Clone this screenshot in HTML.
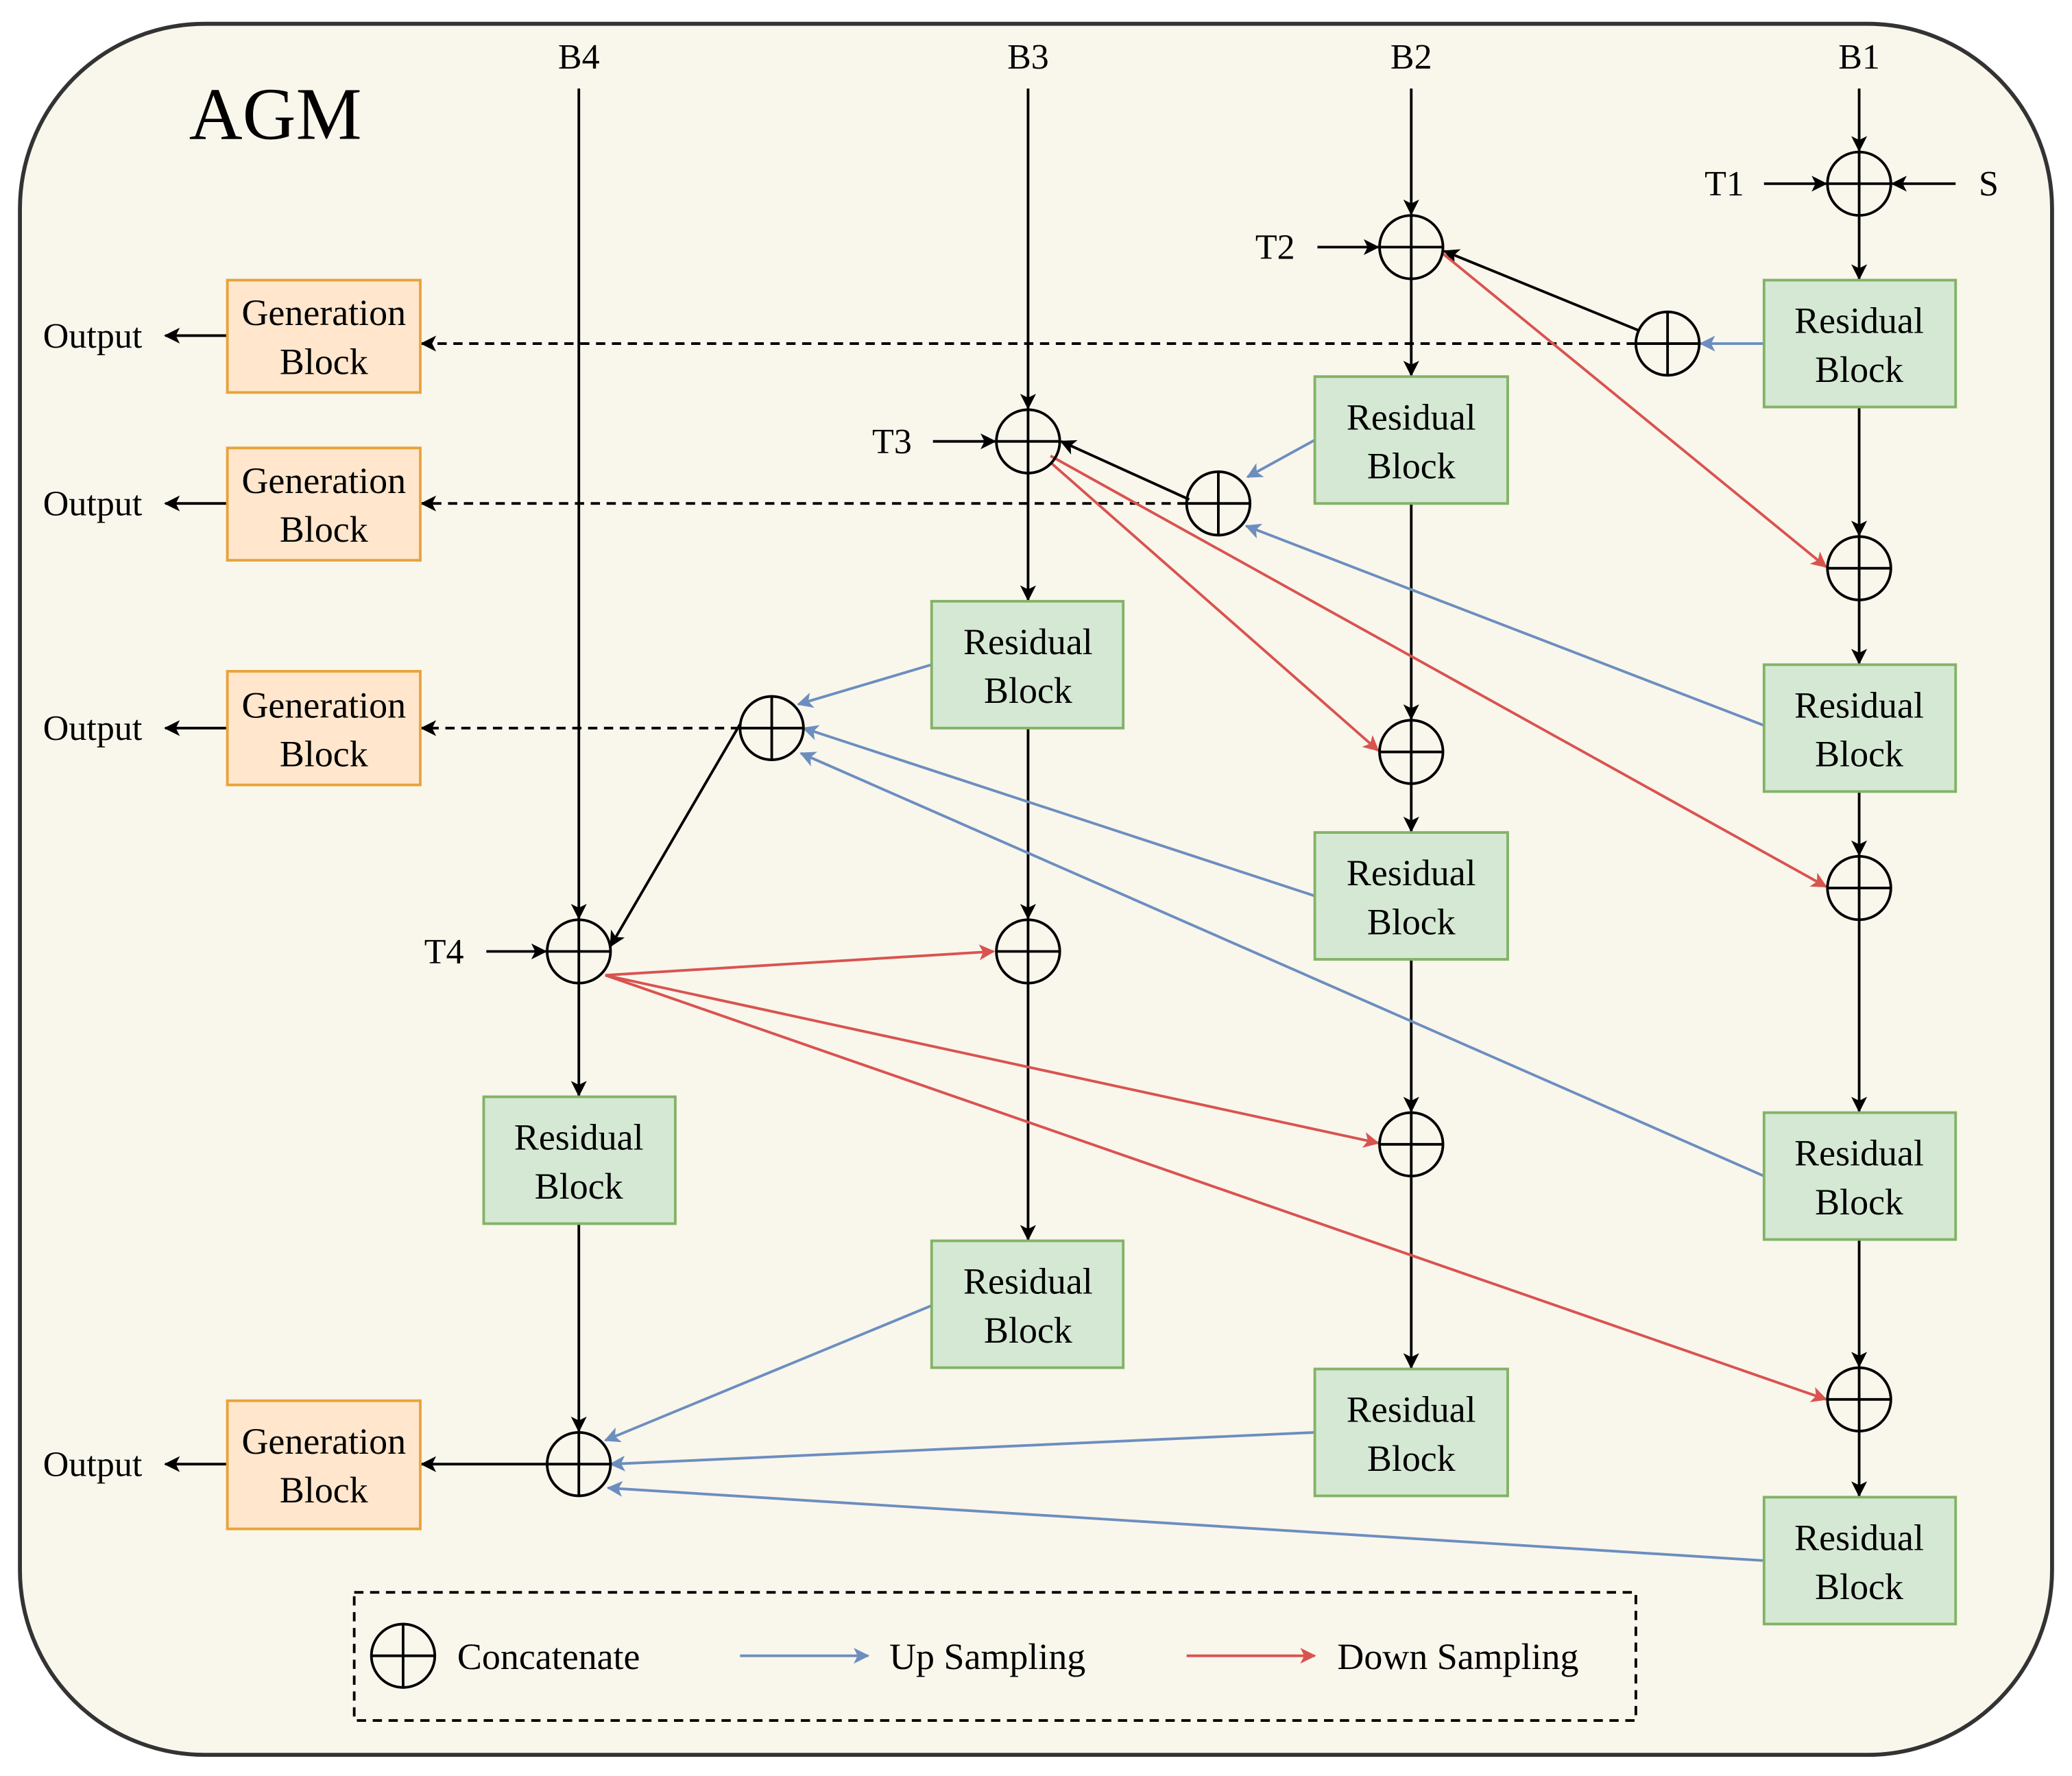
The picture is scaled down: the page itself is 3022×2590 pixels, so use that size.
<!DOCTYPE html>
<html><head><meta charset="utf-8"><style>html,body{margin:0;padding:0;background:#fff}svg{display:block}</style></head><body>
<svg width="3022" height="2590" viewBox="0 0 1568 1344" xmlns="http://www.w3.org/2000/svg" font-family="Liberation Serif, serif">
<defs>
<marker id="k" markerWidth="12" markerHeight="12" refX="11" refY="6" orient="auto" markerUnits="userSpaceOnUse"><path d="M0,0 L12,6 L0,12 L3,6 z" fill="#000"/></marker>
<marker id="b" markerWidth="12" markerHeight="12" refX="11" refY="6" orient="auto" markerUnits="userSpaceOnUse"><path d="M0,0 L12,6 L0,12 L3,6 z" fill="#6c8ebf"/></marker>
<marker id="r" markerWidth="12" markerHeight="12" refX="11" refY="6" orient="auto" markerUnits="userSpaceOnUse"><path d="M0,0 L12,6 L0,12 L3,6 z" fill="#d9534f"/></marker>
</defs>
<rect x="15" y="18" width="1538" height="1310" rx="140" fill="#f9f6ec" stroke="#333" stroke-width="3"/>
<text x="143" y="105" font-size="56">AGM</text>
<g font-size="27" text-anchor="middle">
<text x="438" y="52">B4</text><text x="778" y="52">B3</text><text x="1068" y="52">B2</text><text x="1407" y="52">B1</text>
<text x="1305" y="148">T1</text><text x="1505" y="148">S</text><text x="965" y="196">T2</text><text x="675" y="343">T3</text><text x="336" y="729">T4</text>
<text x="70" y="263">Output</text><text x="70" y="390">Output</text><text x="70" y="560">Output</text><text x="70" y="1117">Output</text>
</g>
<g stroke="#000" stroke-width="2" fill="none" marker-end="url(#k)">
<line x1="1407" y1="67" x2="1407" y2="114"/><line x1="1335" y1="139" x2="1382" y2="139"/><line x1="1480" y1="139" x2="1432" y2="139"/>
<line x1="1407" y1="163" x2="1407" y2="211"/><line x1="1407" y1="308" x2="1407" y2="405"/><line x1="1407" y1="454" x2="1407" y2="502"/>
<line x1="1407" y1="599" x2="1407" y2="647"/><line x1="1407" y1="696" x2="1407" y2="841"/><line x1="1407" y1="938" x2="1407" y2="1034"/><line x1="1407" y1="1083" x2="1407" y2="1132"/>
<line x1="1068" y1="67" x2="1068" y2="162"/><line x1="997" y1="187" x2="1043" y2="187"/><line x1="1068" y1="211" x2="1068" y2="284"/>
<line x1="1068" y1="381" x2="1068" y2="544"/><line x1="1068" y1="593" x2="1068" y2="629"/><line x1="1068" y1="726" x2="1068" y2="841"/><line x1="1068" y1="890" x2="1068" y2="1035"/>
<line x1="778" y1="67" x2="778" y2="309"/><line x1="706" y1="334" x2="753" y2="334"/><line x1="778" y1="358" x2="778" y2="454"/>
<line x1="778" y1="551" x2="778" y2="695"/><line x1="778" y1="744" x2="778" y2="938"/>
<line x1="438" y1="67" x2="438" y2="695"/><line x1="368" y1="720" x2="413" y2="720"/><line x1="438" y1="744" x2="438" y2="829"/><line x1="438" y1="926" x2="438" y2="1083"/>
<line x1="414" y1="1108" x2="319" y2="1108"/>
<line x1="172" y1="254" x2="125" y2="254"/><line x1="172" y1="381" x2="125" y2="381"/><line x1="172" y1="551" x2="125" y2="551"/><line x1="172" y1="1108" x2="125" y2="1108"/>
<line x1="1240" y1="250" x2="1093" y2="190"/><line x1="900" y1="378" x2="803" y2="334"/><line x1="560" y1="548" x2="462" y2="716"/>
<line x1="1238" y1="260" x2="319" y2="260" stroke-dasharray="7,5"/><line x1="898" y1="381" x2="319" y2="381" stroke-dasharray="7,5"/><line x1="560" y1="551" x2="319" y2="551" stroke-dasharray="7,5"/>
</g>
<g stroke="#6c8ebf" stroke-width="2" fill="none" marker-end="url(#b)">
<line x1="1335" y1="260" x2="1287" y2="260"/><line x1="995" y1="333" x2="944" y2="361"/><line x1="1335" y1="549" x2="943" y2="398"/>
<line x1="705" y1="503" x2="604" y2="533"/><line x1="995" y1="678" x2="608" y2="551"/><line x1="1335" y1="890" x2="606" y2="570"/>
<line x1="705" y1="988" x2="458" y2="1090"/><line x1="995" y1="1084" x2="462" y2="1108"/><line x1="1335" y1="1181" x2="460" y2="1126"/>
<line x1="560" y1="1253" x2="657" y2="1253"/>
</g>
<g stroke="#d9534f" stroke-width="2" fill="none" marker-end="url(#r)">
<line x1="1092" y1="192" x2="1382" y2="429"/><line x1="795" y1="350" x2="1043" y2="568"/><line x1="795" y1="345" x2="1382" y2="671"/>
<line x1="458" y1="738" x2="752" y2="720"/><line x1="458" y1="738" x2="1043" y2="865"/><line x1="458" y1="738" x2="1382" y2="1059"/>
<line x1="898" y1="1253" x2="995" y2="1253"/>
</g>
<g fill="none" stroke="#000" stroke-width="2">
<circle cx="1407" cy="139" r="24"/><path d="M1383 139h48M1407 115v48"/>
<circle cx="1407" cy="430" r="24"/><path d="M1383 430h48M1407 406v48"/>
<circle cx="1407" cy="672" r="24"/><path d="M1383 672h48M1407 648v48"/>
<circle cx="1407" cy="1059" r="24"/><path d="M1383 1059h48M1407 1035v48"/>
<circle cx="1068" cy="187" r="24"/><path d="M1044 187h48M1068 163v48"/>
<circle cx="1068" cy="569" r="24"/><path d="M1044 569h48M1068 545v48"/>
<circle cx="1068" cy="866" r="24"/><path d="M1044 866h48M1068 842v48"/>
<circle cx="778" cy="334" r="24"/><path d="M754 334h48M778 310v48"/>
<circle cx="778" cy="720" r="24"/><path d="M754 720h48M778 696v48"/>
<circle cx="438" cy="720" r="24"/><path d="M414 720h48M438 696v48"/>
<circle cx="438" cy="1108" r="24"/><path d="M414 1108h48M438 1084v48"/>
<circle cx="1262" cy="260" r="24"/><path d="M1238 260h48M1262 236v48"/>
<circle cx="922" cy="381" r="24"/><path d="M898 381h48M922 357v48"/>
<circle cx="584" cy="551" r="24"/><path d="M560 551h48M584 527v48"/>
<circle cx="305" cy="1253" r="24"/><path d="M281 1253h48M305 1229v48"/>
</g>
<g fill="#d5e8d4" stroke="#82b366" stroke-width="2">
<rect x="1335" y="212" width="145" height="96"/><rect x="1335" y="503" width="145" height="96"/><rect x="1335" y="842" width="145" height="96"/><rect x="1335" y="1133" width="145" height="96"/>
<rect x="995" y="285" width="146" height="96"/><rect x="995" y="630" width="146" height="96"/><rect x="995" y="1036" width="146" height="96"/>
<rect x="705" y="455" width="145" height="96"/><rect x="705" y="939" width="145" height="96"/><rect x="366" y="830" width="145" height="96"/>
</g>
<g fill="#ffe6cc" stroke="#e8a33a" stroke-width="2">
<rect x="172" y="212" width="146" height="85"/><rect x="172" y="339" width="146" height="85"/><rect x="172" y="508" width="146" height="86"/><rect x="172" y="1060" width="146" height="97"/>
</g>
<g font-size="28" text-anchor="middle">
<text x="1407" y="252">Residual</text><text x="1407" y="289">Block</text>
<text x="1407" y="543">Residual</text><text x="1407" y="580">Block</text>
<text x="1407" y="882">Residual</text><text x="1407" y="919">Block</text>
<text x="1407" y="1173">Residual</text><text x="1407" y="1210">Block</text>
<text x="1068" y="325">Residual</text><text x="1068" y="362">Block</text>
<text x="1068" y="670">Residual</text><text x="1068" y="707">Block</text>
<text x="1068" y="1076">Residual</text><text x="1068" y="1113">Block</text>
<text x="778" y="495">Residual</text><text x="778" y="532">Block</text>
<text x="778" y="979">Residual</text><text x="778" y="1016">Block</text>
<text x="438" y="870">Residual</text><text x="438" y="907">Block</text>
<text x="245" y="246">Generation</text><text x="245" y="283">Block</text>
<text x="245" y="373">Generation</text><text x="245" y="410">Block</text>
<text x="245" y="543">Generation</text><text x="245" y="580">Block</text>
<text x="245" y="1100">Generation</text><text x="245" y="1137">Block</text>
</g>
<rect x="268" y="1205" width="970" height="97" fill="none" stroke="#000" stroke-width="2" stroke-dasharray="7,5"/>
<g font-size="28"><text x="346" y="1263">Concatenate</text><text x="673" y="1263">Up Sampling</text><text x="1012" y="1263">Down Sampling</text></g>
</svg>
</body></html>
